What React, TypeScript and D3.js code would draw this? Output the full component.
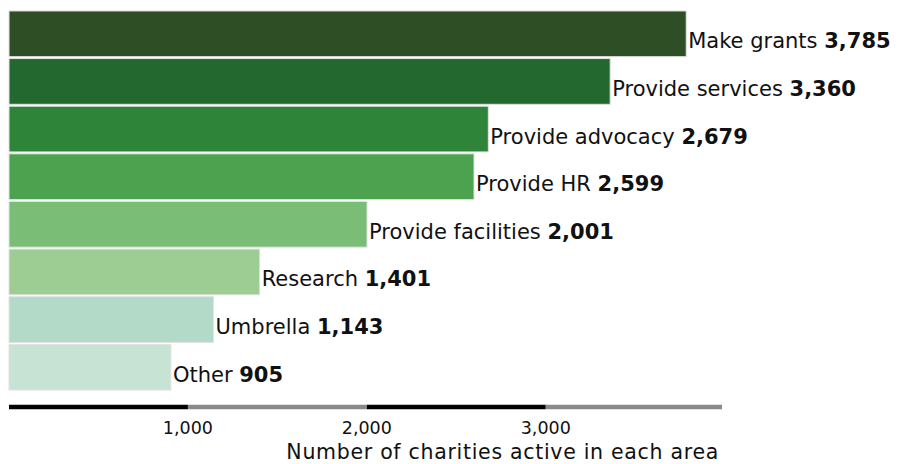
import React from "react";
import * as d3 from "d3";

const categories = [
  "Make grants",
  "Provide services",
  "Provide advocacy",
  "Provide HR",
  "Provide facilities",
  "Research",
  "Umbrella",
  "Other",
];
const values = [3785, 3360, 2679, 2599, 2001, 1401, 1143, 905];
const colors = [
  "#2e4f25",
  "#23682f",
  "#2e8539",
  "#4da250",
  "#7abd76",
  "#9dcd93",
  "#b3dac8",
  "#c6e3d3",
];
const tickValues = [1000, 2000, 3000];
const axisBreaks = [0, 1000, 2000, 3000, 3985];
const axisTitle = "Number of charities active in each area";

const W = 899;
const H = 464;
const FONT = "'DejaVu Sans', sans-serif";

export default function App() {
  const x = d3.scaleLinear().domain([0, 3985]).range([9, 722]);
  const y = d3
    .scaleBand<string>()
    .domain(categories)
    .range([10, 391])
    .paddingInner(0.04)
    .paddingOuter(0.02);
  const fmt = d3.format(",");
  const axisY = 407;

  return (
    <svg
      width={W}
      height={H}
      style={{ position: "absolute", left: 0, top: 0, background: "#fff" }}
    >
      {categories.map((c, i) => {
        const y0 = y(c)!;
        const bh = y.bandwidth();
        return (
          <g key={c}>
            <rect
              x={x(0)}
              y={y0}
              width={x(values[i]) - x(0)}
              height={bh}
              fill={colors[i]}
              stroke="#e2e2e2"
              strokeWidth={1}
            />
            <text
              x={x(values[i]) + 2}
              y={y0 + bh / 2 + 14.5}
              fontFamily={FONT}
              fontSize={21}
              fill="#111"
            >
              <tspan>{c} </tspan>
              <tspan fontWeight="bold" fontSize={21}>
                {fmt(values[i])}
              </tspan>
            </text>
          </g>
        );
      })}
      {axisBreaks.slice(0, -1).map((v, i) => (
        <line
          key={v}
          x1={x(v)}
          x2={x(axisBreaks[i + 1])}
          y1={axisY}
          y2={axisY}
          stroke={i % 2 === 0 ? "#000" : "#8a8a8a"}
          strokeWidth={4.5}
        />
      ))}
      {tickValues.map((t) => (
        <text
          key={t}
          x={x(t)}
          y={434}
          textAnchor="middle"
          fontFamily={FONT}
          fontSize={17.5}
          fill="#111"
        >
          {fmt(t)}
        </text>
      ))}
      <text
        x={x(3985) - 3}
        y={459}
        textAnchor="end"
        fontFamily={FONT}
        fontSize={20.5}
        letterSpacing={0.7}
        fill="#111"
      >
        {axisTitle}
      </text>
    </svg>
  );
}
